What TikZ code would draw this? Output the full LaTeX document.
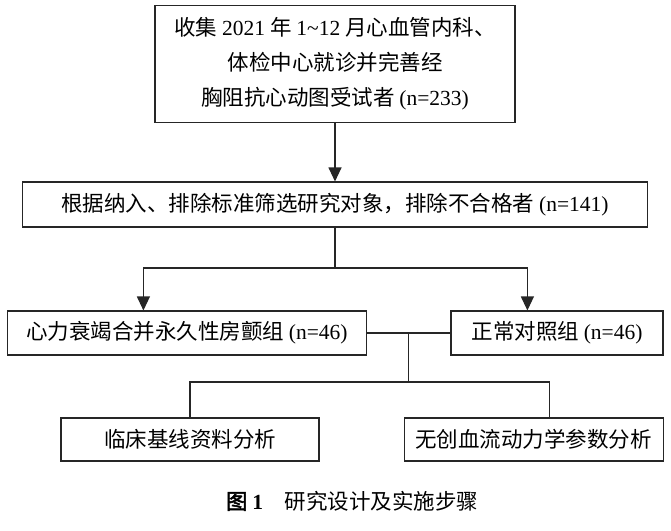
\documentclass[tikz,border=0pt]{standalone}
\usepackage{fontspec}
\setmainfont{Noto Sans CJK SC}[AutoFakeBold=2.5]
\newfontfamily\numfont{Liberation Serif}
\usetikzlibrary{arrows.meta}

\begin{document}
\begin{tikzpicture}[
  x=1pt, y=-1pt,
  font=\fontsize{21.5}{35}\selectfont,
  box/.style={draw=black!85, line width=1.1pt, align=center, inner sep=2pt},
  arr/.style={-{Triangle[length=14pt, width=13pt]}, draw=black!85, line width=1.1pt},
  link/.style={draw=black!85, line width=1.1pt},
]
\useasboundingbox (0,0) rectangle (671,530);

% ---- boxes ------------------------------------------------------
\node[box, minimum width=360pt, minimum height=117pt] (collect) at (335,64.2)
  {收集 {\numfont 2021} 年 {\numfont 1\textasciitilde12} 月心血管内科、\\
   体检中心就诊并完善经\\
   胸阻抗心动图受试者 {\numfont (n=233)}};
\node[box, minimum width=625pt, minimum height=45pt] (screen) at (335,204.5)
  {根据纳入、排除标准筛选研究对象，排除不合格者 {\numfont (n=141)}};
\node[box, minimum width=359pt, minimum height=44pt] (hf) at (186.8,333)
  {心力衰竭合并永久性房颤组 {\numfont (n=46)}};
\node[box, minimum width=212pt, minimum height=44pt] (ctrl) at (557,333)
  {正常对照组 {\numfont (n=46)}};
\node[box, minimum width=258pt, minimum height=43pt] (clin) at (190,439.5)
  {临床基线资料分析};
\node[box, minimum width=259pt, minimum height=43pt] (hemo) at (533.6,439.5)
  {无创血流动力学参数分析};

% ---- caption ----------------------------------------------------
\node (cap) at (352,501) {{\bfseries 图 {\numfont 1}}\quad 研究设计及实施步骤};

% ---- connectors -------------------------------------------------
\coordinate (split) at (335,268);
\coordinate (join)  at (408.8,333);
\coordinate (fork)  at (408.8,382);

\draw[arr]  (collect) -- (screen);
\draw[link] (screen.south) -- (split);
\draw[arr]  (split) -| ([xshift=-43.4pt]hf.north);
\draw[arr]  (split) -| ([xshift=-29.6pt]ctrl.north);
\draw[link] (hf.east) -- (ctrl.west);
\draw[link] (join) -- (fork);
\draw[link] (fork) -| (clin.north);
\draw[link] (fork) -| ([xshift=15.6pt]hemo.north);

\end{tikzpicture}
\end{document}
